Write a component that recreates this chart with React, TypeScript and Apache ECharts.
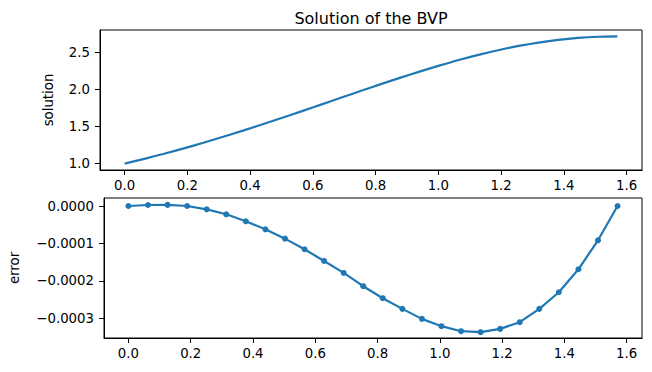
import React, { useEffect, useRef } from "react";
import * as echarts from "echarts";

const xValues = [
  0, 0.0628, 0.1257, 0.1885, 0.2513, 0.3142, 0.377, 0.4398, 0.5027, 0.5655,
  0.6283, 0.6912, 0.754, 0.8168, 0.8796, 0.9425, 1.0053, 1.0681, 1.131, 1.1938,
  1.2566, 1.3195, 1.3823, 1.4451, 1.508, 1.5708,
];
const solutionValues = [
  1.0, 1.065, 1.1335, 1.206, 1.282, 1.362, 1.445, 1.531, 1.619, 1.709,
  1.8, 1.892, 1.983, 2.073, 2.161, 2.246, 2.326, 2.402, 2.4715, 2.534,
  2.5886, 2.634, 2.6706, 2.697, 2.713, 2.718,
];
const errorValues = [
  0, 0.0000027, 0.000003, 0, -0.0000089, -0.0000222, -0.0000409, -0.0000623,
  -0.0000873, -0.0001157, -0.000147, -0.000179, -0.0002145, -0.0002466,
  -0.0002751, -0.0003019, -0.0003214, -0.0003348, -0.0003375, -0.0003286,
  -0.0003107, -0.0002751, -0.0002306, -0.0001692, -0.0000917, 0,
];
const xTicks = [0, 0.2, 0.4, 0.6, 0.8, 1.0, 1.2, 1.4, 1.6];
const solutionTicks = [1.0, 1.5, 2.0, 2.5];
const errorTicks = [0, -0.0001, -0.0002, -0.0003];
const title = "Solution of the BVP";

const FONT = "DejaVu Sans";
const BLUE = "#1f77b4";

export default function App() {
  const ref = useRef<HTMLDivElement>(null);
  useEffect(() => {
    const chart = echarts.init(ref.current!, null, { renderer: "svg" });
    const xAxisBase = (gridIndex: number) => ({
      type: "value" as const,
      gridIndex,
      min: -0.0785,
      max: 1.6493,
      axisLine: { show: true, onZero: false, lineStyle: { color: "#000", width: 1 } },
      axisTick: { show: true, length: 5, customValues: xTicks, lineStyle: { color: "#000", width: 1 } },
      axisLabel: {
        customValues: xTicks,
        formatter: (v: number) => v.toFixed(1),
        color: "#000",
        fontFamily: FONT,
        fontSize: 13.3,
        margin: 9,
      },
      splitLine: { show: false },
    });
    const fmtErr = (v: number) => {
      const s = Math.abs(v).toFixed(4);
      return v < -1e-9 ? "\u2212" + s : s;
    };
    chart.setOption({
      animation: false,
      graphic: [
        {
          type: "text",
          x: 371,
          y: 18,
          style: {
            text: title,
            font: `16px '${FONT}'`,
            fill: "#000",
            textAlign: "center",
            textVerticalAlign: "middle",
          },
        },
      ],
      grid: [
        { left: 100, right: 10, top: 30, height: 140, show: true, borderColor: "#000", borderWidth: 1, backgroundColor: "transparent" },
        { left: 100, right: 10, top: 198, height: 140, show: true, borderColor: "#000", borderWidth: 1, backgroundColor: "transparent" },
      ],
      xAxis: [xAxisBase(0), xAxisBase(1)],
      yAxis: [
        {
          type: "value",
          gridIndex: 0,
          min: 0.914,
          max: 2.804,
          name: "solution",
          nameLocation: "middle",
          nameRotate: 90,
          nameGap: 45,
          nameTextStyle: { color: "#000", fontFamily: FONT, fontSize: 13.3 },
          axisLine: { show: true, onZero: false, lineStyle: { color: "#000", width: 1 } },
          axisTick: { show: true, length: 5, customValues: solutionTicks, lineStyle: { color: "#000", width: 1 } },
          axisLabel: {
            customValues: solutionTicks,
            formatter: (v: number) => v.toFixed(1),
            color: "#000",
            fontFamily: FONT,
            fontSize: 13.3,
            margin: 10,
          },
          splitLine: { show: false },
        },
        {
          type: "value",
          gridIndex: 1,
          min: -0.000353,
          max: 0.0000214,
          name: "error",
          nameLocation: "middle",
          nameRotate: 90,
          nameGap: 83,
          nameTextStyle: { color: "#000", fontFamily: FONT, fontSize: 13.3 },
          axisLine: { show: true, onZero: false, lineStyle: { color: "#000", width: 1 } },
          axisTick: { show: true, length: 5, customValues: errorTicks, lineStyle: { color: "#000", width: 1 } },
          axisLabel: {
            customValues: errorTicks,
            formatter: fmtErr,
            color: "#000",
            fontFamily: FONT,
            fontSize: 13.3,
            margin: 10,
          },
          splitLine: { show: false },
        },
      ],
      series: [
        {
          type: "line",
          xAxisIndex: 0,
          yAxisIndex: 0,
          data: xValues.map((x, i) => [x, solutionValues[i]]),
          smooth: 0.3,
          showSymbol: false,
          symbol: "none",
          lineStyle: { color: BLUE, width: 2.2 },
        },
        {
          type: "line",
          xAxisIndex: 1,
          yAxisIndex: 1,
          data: xValues.map((x, i) => [x, errorValues[i]]),
          symbol: "circle",
          symbolSize: 6,
          itemStyle: { color: BLUE },
          lineStyle: { color: BLUE, width: 2.2 },
        },
      ],
    });
    return () => chart.dispose();
  }, []);
  return (
    <div
      ref={ref}
      style={{ position: "fixed", left: 0, top: 0, width: 652, height: 372, background: "#fff" }}
    />
  );
}
